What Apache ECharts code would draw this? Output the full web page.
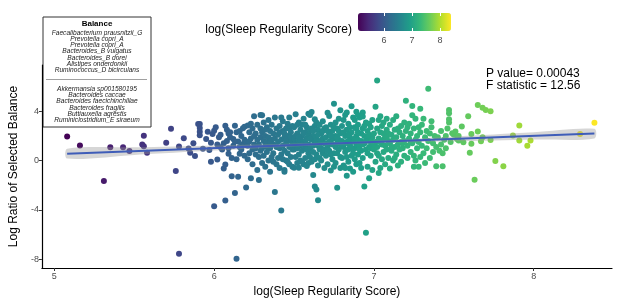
<!DOCTYPE html>
<html>
<head>
<meta charset="utf-8">
<script src="https://cdn.jsdelivr.net/npm/echarts@6/dist/echarts.min.js"></script>
<style>
  html, body { margin: 0; padding: 0; background: #fff; }
  #chart { width: 617px; height: 303px; }
</style>
</head>
<body>
<div id="chart"></div>
<script>
// log(Sleep Regularity Score) vs log ratio of the selected balance
const points = [
  [5.08,1.95],[5.16,1.22],[5.31,-1.66],[5.35,1.09],[5.43,1.09],[5.47,0.77],[5.55,1.31],[5.56,1.17],[5.58,0.64],[5.56,2.02],
  [5.70,1.44],[5.73,2.58],[5.76,-0.84],[5.78,-7.57],[5.78,1.15],[5.81,1.82],[5.84,0.98],[5.85,0.64],[5.87,1.40],[5.88,0.37],
  [5.90,2.98],[5.91,2.98],[5.91,2.65],[5.91,2.35],[5.91,2.05],[5.93,0.96],[5.95,1.76],[5.96,2.35],[5.97,0.86],[5.98,-0.1],
  [5.98,1.45],[5.99,2.16],
  [6.00,2.43],[6.00,-3.7],[6.01,2.7],[6.02,0.08],[6.03,1.89],[6.04,1.09],[6.06,-0.64],[6.07,-3.25],[6.07,-0.32],[6.07,2.83],
  [6.06,1.4],[6.08,1.6],[6.08,2.5],[6.09,0.56],[6.09,2.2],[6.04,2.1],[6.05,0.9],[6.02,1.3],[6.09,1.0],
  [6.10,1.9],[6.10,2.3],[6.11,-1.27],[6.12,1.75],[6.13,2.83],[6.13,-2.64],[6.14,2.3],[6.14,-7.97],[6.15,-1.31],[6.15,1.55],
  [6.16,0.56],[6.16,1.1],[6.17,0.9],[6.18,2.63],[6.19,2.75],[6.11,0.2],[6.12,1.2],[6.14,0.1],[6.17,2.0],[6.18,1.35],
  [6.19,0.4],[6.13,1.55],[6.16,2.4],[6.19,1.7],
  [6.20,-2.19],[6.20,1.5],[6.21,2.85],[6.21,1.2],[6.22,0.6],[6.23,-1.44],[6.23,3.0],[6.23,1.8],[6.24,0.9],[6.25,1.3],
  [6.25,3.6],[6.26,2.2],[6.27,-0.77],[6.27,1.7],[6.28,-1.57],[6.28,0.3],[6.29,2.6],[6.29,3.7],[6.21,0.1],[6.22,2.3],
  [6.24,2.6],[6.24,-0.3],[6.26,0.5],[6.26,1.0],[6.27,2.9],[6.28,1.3],[6.29,0.8],[6.29,1.9],[6.22,1.55],[6.25,2.0],
  [6.30,1.0],[6.30,-0.2],[6.30,2.3],[6.31,1.6],[6.31,0.4],[6.31,3.1],[6.32,2.0],[6.32,-0.5],[6.32,1.2],[6.33,2.7],
  [6.33,0.7],[6.33,1.5],[6.34,3.3],[6.34,0.0],[6.34,1.9],[6.35,2.4],[6.35,1.0],[6.35,-0.9],[6.36,1.7],[6.36,0.3],
  [6.36,2.9],[6.37,1.3],[6.37,2.2],[6.37,0.6],[6.38,-2.56],[6.38,1.8],[6.38,3.5],[6.39,1.1],[6.39,2.6],[6.39,-0.3],
  [6.32,2.5],[6.35,1.4],[6.37,-0.1],[6.33,1.1],[6.30,3.68],
  [6.40,1.5],[6.40,0.2],[6.40,2.1],[6.41,2.8],[6.41,1.0],[6.41,-0.6],[6.42,-4.05],[6.42,1.7],[6.42,0.5],[6.43,2.4],
  [6.43,1.2],[6.43,3.2],[6.44,-0.77],[6.44,-0.91],[6.44,0.8],[6.44,1.9],[6.45,2.6],[6.45,0.0],[6.45,1.4],[6.46,3.0],
  [6.46,2.0],[6.46,0.6],[6.47,3.5],[6.47,1.1],[6.47,-0.3],[6.48,2.3],[6.48,1.6],[6.48,0.3],[6.49,2.8],[6.49,1.3],
  [6.49,-0.5],[6.41,2.3],[6.43,0.1],[6.45,1.7],[6.47,2.6],[6.49,0.9],[6.42,3.5],[6.46,-0.1],[6.48,1.9],[6.44,2.2],
  [6.50,1.8],[6.50,-0.59],[6.50,0.9],[6.50,2.7],[6.51,3.76],[6.51,1.4],[6.51,0.3],[6.52,2.2],[6.52,1.0],[6.52,-0.2],
  [6.53,-0.59],[6.53,3.1],[6.53,1.6],[6.53,0.5],[6.54,2.5],[6.54,1.2],[6.54,0.0],[6.55,2.0],[6.55,2.9],[6.55,0.8],
  [6.56,1.5],[6.56,-0.3],[6.56,3.4],[6.57,2.3],[6.57,1.1],[6.57,0.2],[6.58,-0.43],[6.58,1.8],[6.58,2.7],[6.59,3.81],
  [6.59,1.3],[6.59,0.6],[6.51,2.0],[6.52,2.9],[6.54,1.7],[6.55,-0.1],[6.56,2.2],[6.57,1.6],[6.58,0.9],[6.59,2.1],
  [6.53,1.9],[6.55,1.3],[6.57,2.9],[6.59,-0.2],[6.50,1.3],
  [6.60,2.4],[6.60,1.0],[6.60,0.3],[6.61,3.94],[6.61,1.7],[6.61,-0.1],[6.62,-1.17],[6.62,2.0],[6.62,0.7],[6.63,-2.1],
  [6.63,3.36],[6.63,1.4],[6.63,2.8],[6.64,-2.35],[6.64,3.1],[6.64,0.5],[6.64,1.9],[6.65,-3.22],[6.65,2.5],[6.65,1.2],
  [6.65,-0.4],[6.66,1.6],[6.66,0.2],[6.66,2.9],[6.67,2.2],[6.67,1.0],[6.67,0.0],[6.68,1.8],[6.68,3.2],[6.68,0.6],
  [6.69,2.6],[6.69,1.4],[6.69,-0.6],[6.60,1.8],[6.61,2.6],[6.62,1.2],[6.63,0.1],[6.64,1.6],[6.65,2.1],[6.66,0.9],
  [6.67,1.5],[6.68,2.4],[6.69,0.9],[6.62,2.4],[6.66,1.3],[6.60,3.71],
  [6.70,1.9],[6.70,0.4],[6.70,2.7],[6.71,3.89],[6.71,1.1],[6.71,-0.3],[6.72,3.62],[6.72,2.2],[6.72,0.8],[6.73,1.6],
  [6.73,-0.8],[6.73,2.9],[6.74,1.3],[6.74,0.1],[6.74,2.4],[6.75,4.62],[6.75,1.8],[6.75,0.6],[6.76,2.0],[6.76,-0.2],
  [6.76,3.1],[6.77,-2.21],[6.77,1.4],[6.77,2.6],[6.78,0.9],[6.78,1.7],[6.78,3.4],[6.79,4.08],[6.79,2.2],[6.79,0.3],
  [6.70,1.4],[6.71,2.4],[6.72,1.5],[6.73,0.5],[6.74,1.9],[6.75,2.7],[6.76,1.1],[6.77,0.6],[6.78,2.4],[6.79,1.3],
  [6.71,0.8],[6.73,2.0],[6.75,-0.5],[6.77,1.9],[6.79,-0.6],
  [6.80,1.6],[6.80,2.8],[6.80,0.2],[6.81,1.1],[6.81,3.3],[6.81,-0.4],[6.82,2.0],[6.82,0.7],[6.82,3.7],[6.83,-1.24],
  [6.83,1.5],[6.83,2.5],[6.84,0.9],[6.84,3.0],[6.84,-0.1],[6.85,-0.64],[6.85,1.9],[6.85,1.2],[6.86,4.42],[6.86,2.3],
  [6.86,0.4],[6.87,-0.91],[6.87,1.6],[6.87,3.5],[6.88,1.0],[6.88,2.7],[6.88,0.1],[6.89,2.0],[6.89,1.3],[6.89,-0.3],
  [6.80,1.2],[6.81,2.3],[6.82,1.4],[6.83,0.3],[6.84,2.1],[6.85,2.7],[6.86,1.5],[6.87,0.6],[6.88,1.8],[6.89,2.6],
  [6.82,-0.6],[6.84,1.6],[6.86,1.0],[6.88,3.3],[6.83,3.9],[6.89,3.97],
  [6.90,1.7],[6.90,0.5],[6.90,2.9],[6.91,1.2],[6.91,3.5],[6.91,-0.2],[6.92,2.2],[6.92,0.8],[6.92,1.6],[6.93,2.6],
  [6.93,0.2],[6.93,3.9],[6.94,-2.11],[6.94,1.4],[6.94,2.0],[6.95,-5.86],[6.95,0.9],[6.95,3.1],[6.96,1.8],[6.96,-0.5],
  [6.96,2.4],[6.97,-1.44],[6.97,1.1],[6.97,3.0],[6.98,1.5],[6.98,0.4],[6.98,2.7],[6.99,-0.77],[6.99,1.9],[6.99,3.3],
  [6.90,2.3],[6.91,0.9],[6.92,-0.6],[6.93,1.3],[6.94,2.8],[6.95,1.6],[6.96,0.6],[6.97,2.1],[6.98,1.0],[6.99,1.4],
  [6.90,3.71],[6.93,3.57],
  [7.00,2.2],[7.00,0.9],[7.01,4.37],[7.01,1.5],[7.01,-0.1],[7.02,6.5],[7.02,2.6],[7.02,1.1],[7.03,3.3],[7.03,0.4],
  [7.03,1.8],[7.04,2.3],[7.04,-0.6],[7.04,3.6],[7.05,1.3],[7.05,2.8],[7.05,0.1],[7.06,1.7],[7.06,3.1],[7.06,0.7],
  [7.07,2.0],[7.07,-0.3],[7.07,1.2],[7.08,2.5],[7.08,0.9],[7.08,3.4],[7.09,1.6],[7.09,0.2],[7.09,2.2],[7.00,1.3],
  [7.02,0.6],[7.04,1.5],[7.06,2.2],[7.08,1.9],[7.03,-1.0],
  [7.10,-0.64],[7.10,1.4],[7.10,2.9],[7.11,0.8],[7.11,2.1],[7.12,3.3],[7.12,1.7],[7.12,0.0],[7.13,1.1],[7.13,2.5],
  [7.14,0.5],[7.14,3.6],[7.14,1.9],[7.15,1.3],[7.15,-0.4],[7.16,2.3],[7.16,0.9],[7.17,2.8],[7.17,1.5],[7.17,-0.1],
  [7.18,1.0],[7.18,2.0],[7.19,3.1],[7.19,0.4],[7.19,1.6],[7.20,4.85],[7.11,1.1],[7.13,0.2],[7.15,2.6],[7.18,1.4],
  [7.20,2.4],[7.21,1.2],[7.21,0.2],[7.22,1.8],[7.22,3.0],[7.23,0.7],[7.23,2.2],[7.24,4.43],[7.24,1.4],[7.25,-0.51],
  [7.25,2.6],[7.25,0.4],[7.26,1.7],[7.26,3.4],[7.27,1.0],[7.27,2.0],[7.28,-0.51],[7.28,1.5],[7.29,4.21],[7.29,2.3],
  [7.29,0.3],[7.21,2.7],[7.23,1.5],[7.26,0.0],[7.28,2.7],[7.24,3.68],
  [7.30,1.2],[7.30,2.9],[7.31,0.6],[7.32,1.9],[7.32,-0.2],[7.33,2.4],[7.33,1.0],[7.34,5.84],[7.34,1.6],[7.35,2.2],
  [7.35,0.2],[7.36,3.2],[7.37,1.4],[7.37,0.7],[7.38,2.0],[7.39,-0.45],[7.39,1.1],[7.31,3.4],[7.36,2.7],
  [7.40,1.9],[7.41,0.8],[7.42,2.4],[7.42,1.3],[7.43,-0.45],[7.43,0.6],[7.44,1.7],[7.45,2.0],[7.45,1.0],[7.46,2.6],
  [7.47,4.11],[7.47,3.84],[7.47,3.36],[7.47,3.09],[7.48,1.5],[7.49,2.21],
  [7.50,2.1],[7.51,2.37],[7.52,1.76],[7.53,1.63],[7.53,2.0],[7.56,1.49],[7.55,2.77],[7.59,3.60],[7.60,0.64],[7.61,2.16],
  [7.61,1.36],[7.63,-1.55],[7.65,4.51],[7.68,4.29],[7.70,4.11],[7.73,4.0],[7.65,2.37],[7.68,1.89],[7.67,1.57],[7.73,1.68],
  [7.76,-0.03],[7.81,-0.45],[7.91,2.85],[7.87,2.03],[7.91,1.63],[7.98,1.63],[7.96,1.2],[8.29,2.16],[8.38,3.07]
];

// linear fit and its confidence band
const fitX = [5.08, 8.38];
const fitY = [0.56, 2.19];
const bandX  = [5.08, 5.5, 6.0, 6.5, 6.8, 7.1, 7.5, 8.0, 8.38];
const bandLo = [0.16, 0.46, 0.81, 1.15, 1.31, 1.44, 1.56, 1.71, 1.80];
const bandHi = [0.96, 1.08, 1.23, 1.39, 1.51, 1.68, 1.96, 2.31, 2.58];

const xTicks = [5, 6, 7, 8];
const yTicks = [-8, -4, 0, 4];
const barTicks = [6, 7, 8];
const colorMin = 5.07, colorMax = 8.39;

const balanceTop = ['Faecalibacterium prausnitzii_G', 'Prevotella copri_A', 'Prevotella copri_A',
  'Bacteroides_B vulgatus', 'Bacteroides_B dorei', 'Alistipes onderdonkii', 'Ruminococcus_D bicirculans'];
const balanceBottom = ['Akkermansia sp001580195', 'Bacteroides caccae', 'Bacteroides faecichinchillae',
  'Bacteroides fragilis', 'Buttiauxella agrestis', 'Ruminiclostridium_E siraeum'];

const viridis = ['#440154', '#482878', '#3E4A89', '#31688E', '#26828E', '#1F9E89', '#35B779', '#6DCD59', '#B4DE2C', '#FDE725'];
const font = 'Liberation Sans, Arial, sans-serif';

const chart = echarts.init(document.getElementById('chart'));

// legend box
const legendEls = [
  { type: 'rect', shape: { x: 43, y: 17, width: 108, height: 110 }, style: { fill: '#fff', stroke: '#333', lineWidth: 1 } },
  { type: 'text', x: 97, y: 24, style: { text: 'Balance', font: 'bold 8px ' + font, fill: '#000', textAlign: 'center', textVerticalAlign: 'middle' } },
  { type: 'line', shape: { x1: 46, y1: 79.5, x2: 147, y2: 79.5 }, style: { stroke: '#888', lineWidth: 0.8 } }
];
balanceTop.forEach((t, i) => legendEls.push({ type: 'text', x: 97, y: 33.3 + i * 6.1,
  style: { text: t, font: 'italic 6.6px ' + font, fill: '#222', textAlign: 'center', textVerticalAlign: 'middle' } }));
balanceBottom.forEach((t, i) => legendEls.push({ type: 'text', x: 97, y: 89 + i * 6.3,
  style: { text: t, font: 'italic 6.6px ' + font, fill: '#222', textAlign: 'center', textVerticalAlign: 'middle' } }));

chart.setOption({
  animation: false,
  textStyle: { fontFamily: font },
  grid: [
    { left: 40, top: 65, right: 5, bottom: 32 },
    { left: 358, top: 13, width: 93, height: 18 }
  ],
  xAxis: [
    {
      type: 'value', min: 4.922, max: 8.49, gridIndex: 0,
      name: 'log(Sleep Regularity Score)', nameLocation: 'middle', nameGap: 18,
      nameTextStyle: { fontSize: 12, color: '#000' },
      axisLine: { onZero: false, lineStyle: { color: '#000', width: 1.2 } },
      axisTick: { customValues: xTicks, length: 3, lineStyle: { color: '#333' } },
      axisLabel: { customValues: xTicks, fontSize: 9, color: '#4D4D4D', margin: 4 },
      splitLine: { show: false }
    },
    {
      type: 'value', min: colorMin, max: colorMax, gridIndex: 1, position: 'bottom', z: 10,
      axisLine: { show: false, onZero: false },
      axisTick: { customValues: barTicks, inside: true, length: 3, lineStyle: { color: '#fff', width: 1 } },
      axisLabel: { customValues: barTicks, fontSize: 9, color: '#4D4D4D', margin: 5 },
      splitLine: { show: false }
    },
    {
      type: 'value', min: colorMin, max: colorMax, gridIndex: 1, position: 'top', z: 10,
      axisLine: { show: false, onZero: false },
      axisTick: { customValues: barTicks, inside: true, length: 3, lineStyle: { color: '#fff', width: 1 } },
      axisLabel: { show: false },
      splitLine: { show: false }
    }
  ],
  yAxis: [
    {
      type: 'value', min: -8.72, max: 7.76, gridIndex: 0,
      name: 'Log Ratio of Selected Balance', nameLocation: 'middle', nameGap: 13,
      nameTextStyle: { fontSize: 12, color: '#000' },
      axisLine: { show: true, onZero: false, lineStyle: { color: '#000', width: 1.2 } },
      axisTick: { show: true, customValues: yTicks, length: 3, lineStyle: { color: '#333' } },
      axisLabel: { customValues: yTicks, fontSize: 9, color: '#4D4D4D', margin: 3 },
      splitLine: { show: false }
    },
    { type: 'value', min: 0, max: 1, gridIndex: 1, show: false }
  ],
  visualMap: {
    type: 'continuous', seriesIndex: 0, dimension: 0,
    min: colorMin, max: colorMax, orient: 'horizontal',
    left: 358, top: 13, itemWidth: 18, itemHeight: 93,
    padding: 0, calculable: false, hoverLink: false, realtime: false,
    inRange: { color: viridis }, text: null, textStyle: { fontSize: 0 }
  },
  graphic: [
    { type: 'group', children: legendEls },
    { type: 'text', x: 352, y: 30, style: { text: 'log(Sleep Regularity Score)', font: '12px ' + font, fill: '#000', textAlign: 'right', textVerticalAlign: 'middle' } },
    { type: 'text', x: 486, y: 74, style: { text: 'P value= 0.00043', font: '12px ' + font, fill: '#000', textVerticalAlign: 'middle' } },
    { type: 'text', x: 486, y: 86, style: { text: 'F statistic = 12.56', font: '12px ' + font, fill: '#000', textVerticalAlign: 'middle' } }
  ],
  series: [
    {
      type: 'scatter', xAxisIndex: 0, yAxisIndex: 0, z: 2,
      symbolSize: 6, data: points, itemStyle: { opacity: 1 }
    },
    {
      type: 'custom', xAxisIndex: 0, yAxisIndex: 0, z: 3, silent: true,
      data: bandX.map((x, i) => [x, bandLo[i], bandHi[i]]),
      renderItem: (params, api) => {
        if (params.dataIndex !== 0) return;
        const upper = bandX.map((x, i) => api.coord([x, bandHi[i]]));
        const lower = bandX.map((x, i) => api.coord([x, bandLo[i]])).reverse();
        return { type: 'polygon', shape: { points: upper.concat(lower), smooth: 0.3 },
          style: { fill: 'rgba(153,153,153,0.4)' } };
      }
    },
    {
      type: 'line', xAxisIndex: 0, yAxisIndex: 0, z: 4,
      data: fitX.map((x, i) => [x, fitY[i]]),
      showSymbol: false, symbol: 'none',
      lineStyle: { color: '#3F5DB8', width: 2 }
    }
  ]
});
</script>
</body>
</html>
